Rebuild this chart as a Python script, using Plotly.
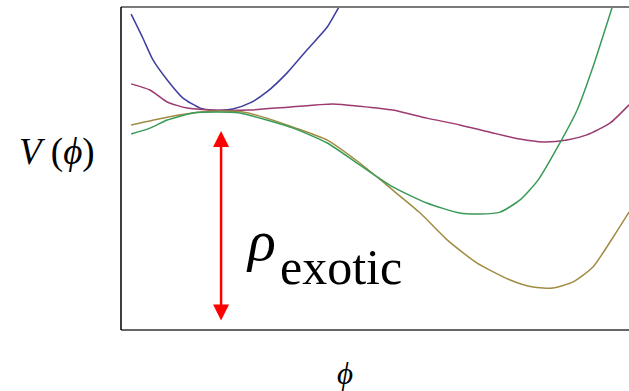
import plotly.graph_objects as go

# Potential curves V(phi), normalised so the plot box spans 0..1 on both axes
phi_blue = [0.020, 0.043, 0.063, 0.091, 0.122, 0.156, 0.175, 0.197, 0.220, 0.254, 0.287, 0.327, 0.366, 0.406, 0.429, 0.437]
v_blue = [0.978, 0.904, 0.836, 0.774, 0.718, 0.687, 0.681, 0.680, 0.684, 0.703, 0.737, 0.796, 0.867, 0.938, 1.000, 1.020]

phi_magenta = [0.020, 0.057, 0.091, 0.130, 0.175, 0.254, 0.327, 0.417, 0.470, 0.535, 0.602, 0.667, 0.732, 0.785, 0.831, 0.878, 0.917, 0.963, 1.000]
v_magenta = [0.762, 0.743, 0.706, 0.687, 0.681, 0.681, 0.690, 0.700, 0.693, 0.681, 0.656, 0.635, 0.610, 0.591, 0.582, 0.588, 0.604, 0.641, 0.697]

phi_olive = [0.020, 0.091, 0.156, 0.195, 0.240, 0.287, 0.339, 0.406, 0.470, 0.535, 0.589, 0.642, 0.701, 0.766, 0.811, 0.850, 0.890, 0.929, 0.969, 1.000]
v_olive = [0.635, 0.659, 0.675, 0.678, 0.675, 0.656, 0.628, 0.588, 0.517, 0.433, 0.362, 0.279, 0.207, 0.155, 0.133, 0.130, 0.149, 0.195, 0.288, 0.365]

phi_green = [0.020, 0.057, 0.091, 0.142, 0.189, 0.234, 0.287, 0.339, 0.406, 0.470, 0.535, 0.602, 0.667, 0.707, 0.746, 0.785, 0.821, 0.864, 0.898, 0.929, 0.967]
v_green = [0.607, 0.625, 0.650, 0.672, 0.675, 0.672, 0.650, 0.625, 0.579, 0.511, 0.443, 0.393, 0.362, 0.359, 0.365, 0.402, 0.464, 0.579, 0.681, 0.814, 1.000]

# False-vacuum energy arrow
phi_arrow = 0.197
v_arrow_top = 0.616
v_arrow_bottom = 0.025

series = [
    (phi_blue, v_blue, "#3d3d9e"),
    (phi_magenta, v_magenta, "#9b3a6e"),
    (phi_olive, v_olive, "#a08c42"),
    (phi_green, v_green, "#3a9a58"),
]

fig = go.Figure()
for xs, ys, color in series:
    fig.add_trace(go.Scatter(x=xs, y=ys, mode="lines",
                             line=dict(color=color, width=1.5, shape="spline", smoothing=0.6),
                             hoverinfo="skip", showlegend=False))

serif = "Liberation Serif"

annotations = [
    # double-headed arrow
    dict(x=phi_arrow, y=v_arrow_top, ax=phi_arrow, ay=v_arrow_bottom,
         xref="x", yref="y", axref="x", ayref="y", text="",
         showarrow=True, arrowhead=2, startarrowhead=2, arrowside="end+start",
         arrowwidth=2.5, arrowsize=1.28, startarrowsize=1.28, arrowcolor="#ff0000"),
    # rho_exotic label
    dict(x=0.242, y=0.278, xref="x", yref="y", xanchor="left", yanchor="middle",
         text="<i>ρ</i>", showarrow=False, font=dict(family=serif, size=58, color="black")),
    dict(x=0.309, y=0.196, xref="x", yref="y", xanchor="left", yanchor="middle",
         text="exotic", showarrow=False, font=dict(family=serif, size=50, color="black")),
    # axis labels
    dict(x=57, y=152, xref="paper", yref="paper", xanchor="center", yanchor="middle",
         text="<i>V</i> (<i>ϕ</i>)", showarrow=False,
         font=dict(family=serif, size=37, color="black")),
    dict(x=345, y=373, xref="paper", yref="paper", xanchor="center", yanchor="middle",
         text="<i>ϕ</i>", showarrow=False,
         font=dict(family=serif, size=31, color="black")),
]

# convert pixel-placed axis labels to paper coordinates
W, H = 629, 391
L, R, T, B = 121, 0, 7, 61
pw, ph = W - L - R, H - T - B
for a in annotations[3:]:
    a["x"] = (a["x"] - L) / pw
    a["y"] = (H - B - a["y"]) / ph

shapes = [
    dict(type="line", xref="paper", yref="paper", x0=0, x1=1, y0=1, y1=1,
         line=dict(color="#7a7a7a", width=2)),
    dict(type="line", xref="paper", yref="paper", x0=0, x1=1, y0=0, y1=0,
         line=dict(color="#666666", width=2)),
    dict(type="line", xref="paper", yref="paper", x0=0, x1=0, y0=0, y1=1,
         line=dict(color="black", width=1.5)),
]

fig.update_layout(
    width=W, height=H,
    margin=dict(l=L, r=R, t=T, b=B),
    paper_bgcolor="white", plot_bgcolor="white",
    xaxis=dict(range=[0, 1], visible=False, fixedrange=True),
    yaxis=dict(range=[0, 1], visible=False, fixedrange=True),
    annotations=annotations, shapes=shapes,
)

fig.write_html("out.html")
